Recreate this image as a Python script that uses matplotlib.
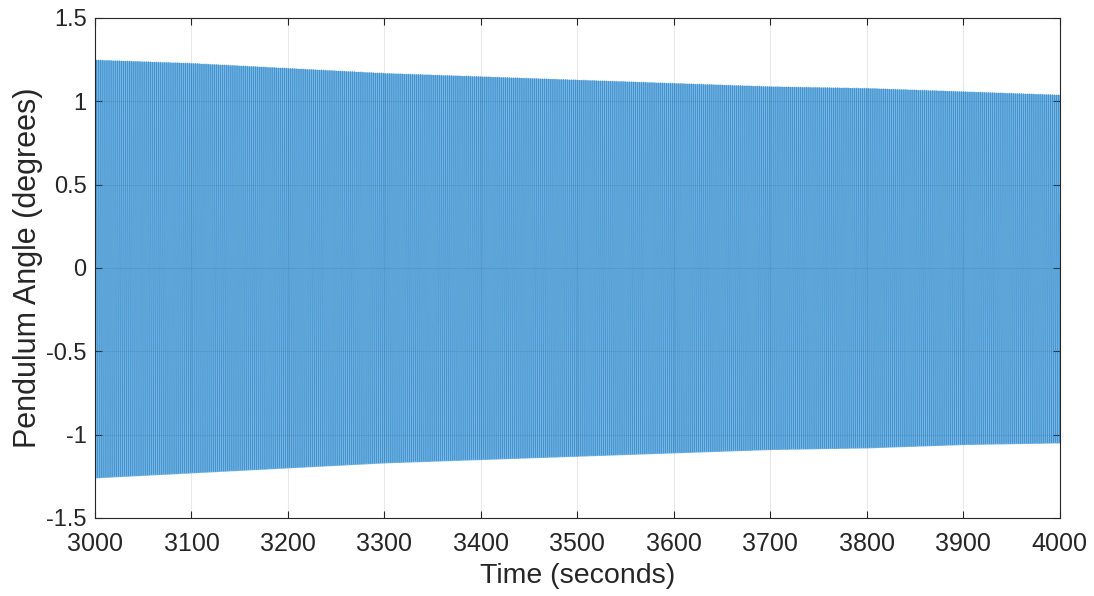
import numpy as np
import matplotlib.pyplot as plt

# envelope, every 100 s
env_time = [3000, 3100, 3200, 3300, 3400, 3500, 3600, 3700, 3800, 3900, 4000]
env_upper = [1.25, 1.23, 1.20, 1.17, 1.15, 1.13, 1.11, 1.09, 1.08, 1.06, 1.04]
env_lower = [-1.26, -1.23, -1.20, -1.17, -1.15, -1.13, -1.11, -1.09, -1.08, -1.06, -1.05]
period = 2.01  # seconds, pendulum swing
sample_dt = 0.05

xticks = [3000, 3100, 3200, 3300, 3400, 3500, 3600, 3700, 3800, 3900, 4000]
yticks = [-1.5, -1, -0.5, 0, 0.5, 1, 1.5]
ytick_labels = ["-1.5", "-1", "-0.5", "0", "0.5", "1", "1.5"]

t = np.arange(env_time[0], env_time[-1] + sample_dt, sample_dt)
up = np.interp(t, env_time, env_upper)
lo = np.interp(t, env_time, env_lower)
s = np.sin(2 * np.pi * t / period)
angle = np.where(s >= 0, up * s, -lo * s)

plt.rcParams["font.family"] = ["Liberation Sans", "DejaVu Sans"]

fig = plt.figure(figsize=(10.94, 5.96), dpi=100)
ax = fig.add_axes([0.0868, 0.131, 0.882, 0.839])
ax.fill_between(env_time, env_lower, env_upper, color="#78b6e3", linewidth=0)
ax.plot(t, angle, color="#1f7cc4", linewidth=0.35, alpha=0.6)

ax.set_xlim(3000, 4000)
ax.set_ylim(-1.5, 1.5)
ax.set_xticks(xticks)
ax.set_yticks(yticks)
ax.set_yticklabels(ytick_labels)
ax.grid(True, color="#262626", alpha=0.1, linewidth=0.8)
ax.tick_params(direction="in", length=5, color="#262626",
               top=True, right=True, labelcolor="#262626")
ax.tick_params(axis="x", labelsize=18, pad=10)
ax.tick_params(axis="y", labelsize=17, pad=6)
for sp in ax.spines.values():
    sp.set_color("#262626")
    sp.set_linewidth(0.8)
ax.set_xlabel("Time (seconds)", fontsize=20.5, color="#262626", labelpad=5)
ax.set_ylabel("Pendulum Angle (degrees)", fontsize=22, color="#262626", labelpad=2)

fig.savefig("out.png", dpi=100)
